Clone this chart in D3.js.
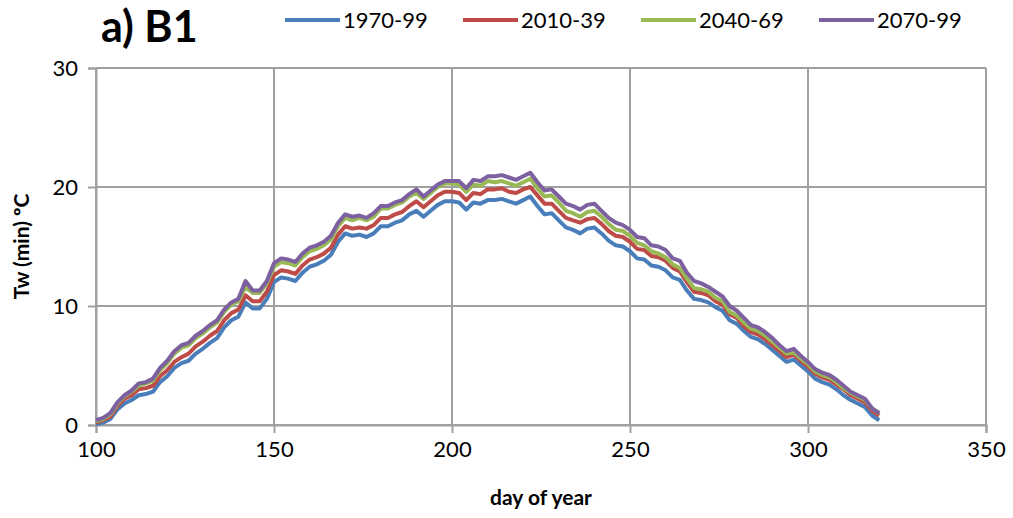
<!DOCTYPE html>
<html>
<head>
<meta charset="utf-8">
<script src="https://cdn.jsdelivr.net/npm/d3@7"></script>
<style>
  body { margin: 0; background: #fff; }
  svg { display: block; font-family: Lato, "Open Sans", sans-serif; }
</style>
</head>
<body>
<script>
// days 100..320, every 2nd day
var days = d3.range(100, 321, 2);

var v1970 = [0.05,0.2,0.5,1.3,1.8,2.1,2.5,2.6,2.8,3.6,4.1,4.8,5.2,5.4,6.0,6.4,6.9,7.3,8.2,8.8,9.1,10.3,9.8,9.8,10.6,12.0,12.4,12.3,12.1,12.8,13.3,13.5,13.8,14.3,15.4,16.1,15.9,16.0,15.8,16.1,16.7,16.7,17.0,17.2,17.7,18.0,17.5,18.0,18.5,18.8,18.8,18.7,18.1,18.7,18.6,18.9,18.9,19.0,18.8,18.6,18.9,19.2,18.4,17.7,17.8,17.2,16.6,16.4,16.1,16.5,16.6,16.1,15.5,15.1,15.0,14.6,14.0,13.9,13.4,13.3,13.0,12.4,12.2,11.3,10.6,10.5,10.3,9.9,9.6,8.8,8.5,7.9,7.4,7.2,6.8,6.3,5.8,5.3,5.5,5.0,4.5,3.9,3.6,3.4,3.0,2.5,2.1,1.8,1.5,0.8,0.4];
var v2010 = [0.2,0.4,0.7,1.6,2.2,2.5,3.0,3.1,3.3,4.1,4.6,5.3,5.7,6.0,6.6,7.0,7.5,7.9,8.8,9.4,9.7,10.9,10.4,10.4,11.2,12.6,13.0,12.9,12.7,13.4,13.9,14.1,14.4,14.9,16.0,16.7,16.5,16.6,16.5,16.8,17.4,17.4,17.7,17.9,18.4,18.8,18.3,18.8,19.3,19.6,19.6,19.5,18.9,19.5,19.4,19.8,19.8,19.9,19.6,19.5,19.8,20.0,19.3,18.6,18.6,18.0,17.4,17.2,17.0,17.3,17.4,16.9,16.3,15.9,15.8,15.4,14.8,14.7,14.2,14.1,13.8,13.2,12.9,12.0,11.2,11.1,10.9,10.4,10.1,9.3,9.0,8.3,7.8,7.6,7.2,6.7,6.2,5.7,5.9,5.4,4.9,4.3,4.0,3.8,3.4,3.0,2.5,2.2,1.9,1.2,0.8];
var v2040 = [0.3,0.5,0.9,1.8,2.4,2.8,3.3,3.5,3.7,4.6,5.2,6.0,6.5,6.7,7.3,7.7,8.2,8.6,9.5,10.1,10.4,11.6,11.1,11.1,11.9,13.3,13.7,13.6,13.4,14.1,14.6,14.8,15.1,15.6,16.7,17.4,17.2,17.4,17.2,17.5,18.2,18.2,18.5,18.7,19.2,19.5,19.0,19.5,20.0,20.3,20.3,20.2,19.6,20.2,20.1,20.5,20.4,20.5,20.3,20.1,20.4,20.7,19.9,19.2,19.3,18.7,18.0,17.8,17.5,17.9,18.0,17.5,16.9,16.4,16.3,15.9,15.3,15.1,14.6,14.4,14.1,13.5,13.2,12.3,11.5,11.4,11.2,10.7,10.4,9.5,9.2,8.6,8.1,7.9,7.5,7.0,6.5,6.0,6.1,5.6,5.1,4.5,4.2,4.0,3.6,3.1,2.7,2.4,2.1,1.4,1.0];
var v2070 = [0.4,0.6,1.0,1.9,2.5,2.9,3.5,3.6,3.9,4.8,5.4,6.2,6.7,6.9,7.5,7.9,8.4,8.8,9.7,10.3,10.6,12.1,11.3,11.3,12.1,13.6,14.0,13.9,13.7,14.4,14.9,15.1,15.4,15.9,17.0,17.7,17.5,17.6,17.4,17.8,18.4,18.4,18.7,18.9,19.4,19.8,19.2,19.7,20.2,20.5,20.5,20.5,19.9,20.6,20.5,20.9,20.9,21.0,20.8,20.6,20.9,21.2,20.4,19.7,19.8,19.2,18.6,18.4,18.1,18.5,18.6,18.0,17.4,17.0,16.8,16.4,15.8,15.7,15.1,15.0,14.7,14.0,13.8,12.8,12.1,11.9,11.6,11.2,10.8,10.0,9.6,9.0,8.4,8.2,7.8,7.3,6.7,6.2,6.4,5.8,5.3,4.7,4.4,4.2,3.8,3.3,2.8,2.5,2.2,1.4,1.0];

var seriesNames = ["1970-99", "2010-39", "2040-69", "2070-99"];
var seriesColors = ["#4a7ebb", "#be4b48", "#98b954", "#7d60a0"];
var seriesValues = [v1970, v2010, v2040, v2070];

var xTicks = [100, 150, 200, 250, 300, 350];
var yTicks = [0, 10, 20, 30];

var width = 1013, height = 518;
var margin = {left: 96, right: 27, top: 68, bottom: 93};

var svg = d3.select("body").append("svg")
    .attr("width", width)
    .attr("height", height);

var x = d3.scaleLinear().domain([100, 350]).range([margin.left, width - margin.right]);
var y = d3.scaleLinear().domain([0, 30]).range([height - margin.bottom, margin.top]);

var gridColor = "#a0a0a0";

// gridlines
svg.append("g")
    .selectAll("line.vg")
    .data(xTicks)
    .enter().append("line")
    .attr("x1", function(d){ return x(d); })
    .attr("x2", function(d){ return x(d); })
    .attr("y1", y(0))
    .attr("y2", y(30))
    .attr("stroke", gridColor)
    .attr("stroke-width", 2);

svg.append("g")
    .selectAll("line.hg")
    .data(yTicks)
    .enter().append("line")
    .attr("x1", x(100))
    .attr("x2", x(350))
    .attr("y1", function(d){ return y(d); })
    .attr("y2", function(d){ return y(d); })
    .attr("stroke", gridColor)
    .attr("stroke-width", 2);

// axes
var xAxis = svg.append("g")
    .attr("transform", "translate(0," + y(0) + ")")
    .call(d3.axisBottom(x).tickValues(xTicks).tickSize(8).tickPadding(8));
var yAxis = svg.append("g")
    .attr("transform", "translate(" + x(100) + ",0)")
    .call(d3.axisLeft(y).tickValues(yTicks).tickSize(8).tickPadding(10));

[xAxis, yAxis].forEach(function(a){
    a.select(".domain").attr("stroke", gridColor).attr("stroke-width", 2);
    a.selectAll(".tick line").attr("stroke", gridColor).attr("stroke-width", 2);
    a.selectAll(".tick text")
        .attr("font-family", "Lato, sans-serif")
        .attr("font-size", "22px")
        .attr("fill", "#000");
});

// lines
var line = d3.line()
    .x(function(d, i){ return x(days[i]); })
    .y(function(d){ return y(d); });

svg.append("g")
    .selectAll("path.series")
    .data(seriesValues)
    .enter().append("path")
    .attr("class", "series")
    .attr("d", line)
    .attr("fill", "none")
    .attr("stroke", function(d, i){ return seriesColors[i]; })
    .attr("stroke-width", 4)
    .attr("stroke-linejoin", "round");

// title
svg.append("text")
    .attr("x", 101)
    .attr("y", 42)
    .attr("font-size", "43px")
    .attr("font-weight", "bold")
    .text("a) B1");

// legend
var legend = svg.append("g")
    .selectAll("g")
    .data(seriesNames)
    .enter().append("g")
    .attr("transform", function(d, i){ return "translate(" + (285 + i * 178) + ",20)"; });
legend.append("line")
    .attr("x1", 0).attr("x2", 55)
    .attr("stroke", function(d, i){ return seriesColors[i]; })
    .attr("stroke-width", 4);
legend.append("text")
    .attr("x", 58)
    .attr("dy", "0.35em")
    .attr("font-size", "22px")
    .text(function(d){ return d; });

// axis titles
svg.append("text")
    .attr("x", (x(100) + x(350)) / 2)
    .attr("y", 505)
    .attr("text-anchor", "middle")
    .attr("font-size", "21px")
    .attr("font-weight", "bold")
    .text("day of year");

svg.append("text")
    .attr("transform", "translate(29," + ((y(0) + y(30)) / 2) + ") rotate(-90)")
    .attr("text-anchor", "middle")
    .attr("font-size", "21px")
    .attr("font-weight", "bold")
    .text("Tw (min) ºC");
</script>
</body>
</html>
